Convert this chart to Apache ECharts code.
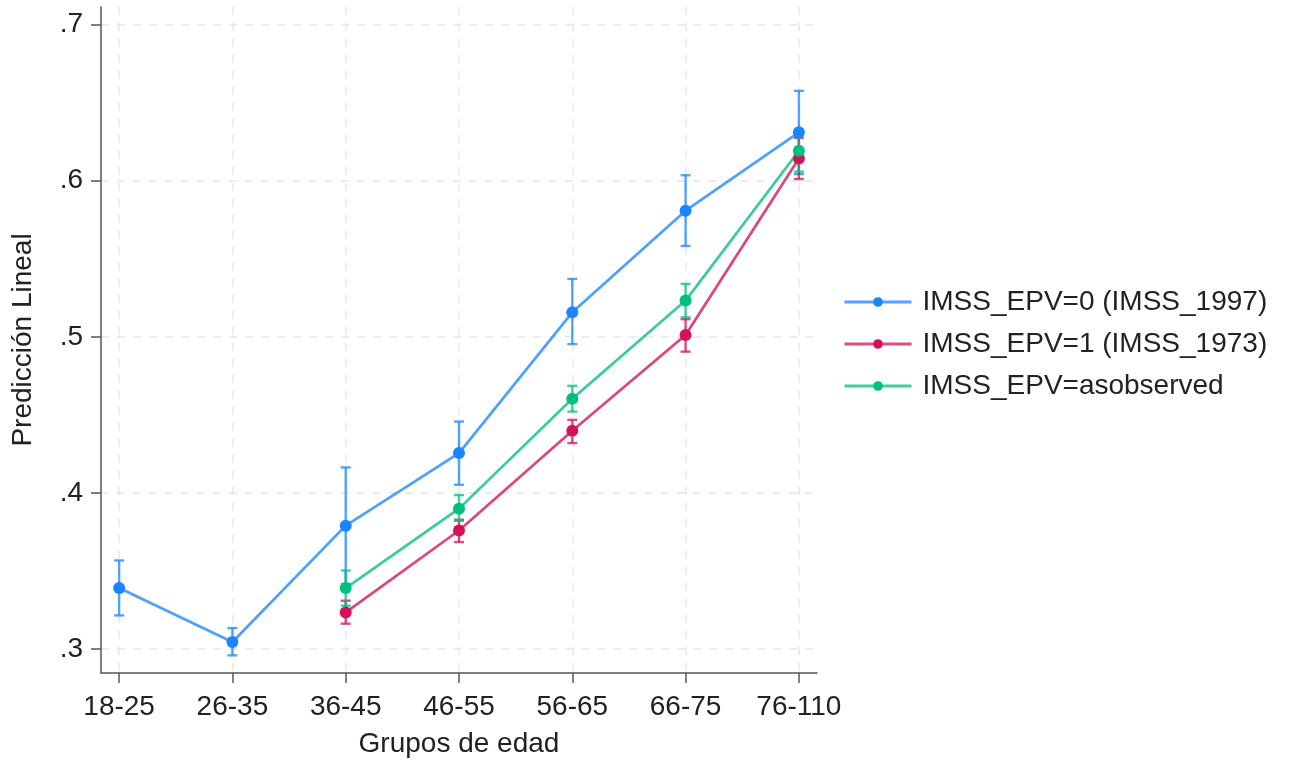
<!DOCTYPE html>
<html>
<head>
<meta charset="utf-8">
<script src="https://cdn.jsdelivr.net/npm/echarts@6/dist/echarts.min.js"></script>
<style>
  html, body { margin: 0; background: #fff; }
  #main { width: 1290px; height: 761px; }
</style>
</head>
<body>
<div id="main"></div>
<script>
const categories = ['18-25', '26-35', '36-45', '46-55', '56-65', '66-75', '76-110']
const seriesNames = ['IMSS_EPV=0 (IMSS_1997)', 'IMSS_EPV=1 (IMSS_1973)', 'IMSS_EPV=asobserved']
const colors = ['#1a85ff', '#d41159', '#00bf7f']

// punto estimado y limites del intervalo
const est0 = [0.339, 0.3045, 0.379, 0.4255, 0.5157, 0.5808, 0.631]
const lo0 = [0.3215, 0.2959, 0.3416, 0.4052, 0.4953, 0.5582, 0.6042]
const hi0 = [0.3567, 0.3134, 0.4163, 0.4457, 0.5371, 0.6035, 0.6576]

const est1 = [null, null, 0.3234, 0.3759, 0.4398, 0.5012, 0.6143]
const lo1 = [null, null, 0.3162, 0.3685, 0.4319, 0.4905, 0.6011]
const hi1 = [null, null, 0.3309, 0.3828, 0.4468, 0.5113, 0.6275]

const est2 = [null, null, 0.339, 0.3899, 0.4603, 0.5232, 0.6192]
const lo2 = [null, null, 0.3277, 0.3821, 0.4521, 0.5125, 0.6058]
const hi2 = [null, null, 0.3503, 0.3986, 0.4686, 0.5339, 0.6326]

const yTicks = [0.3, 0.4, 0.5, 0.6, 0.7]

const fontFamily = 'Liberation Sans, Arial, sans-serif'
const fontSize = 28
const axisColor = '#555'
const gridColor = '#e6e6e6'

function points (arr) {
  let out = []
  arr.forEach((v, i) => { if (v !== null) out.push([i, v]) })
  return out
}
function bars (lo, hi) {
  let out = []
  lo.forEach((v, i) => { if (v !== null) out.push([i, v, hi[i]]) })
  return out
}

function errorSeries (name, lo, hi, color) {
  return {
    name: name,
    type: 'custom',
    data: bars(lo, hi),
    encode: { x: 0, y: [1, 2] },
    z: 3,
    renderItem: function (params, api) {
      let x = api.value(0)
      let a = api.coord([x, api.value(1)])
      let b = api.coord([x, api.value(2)])
      let w = 5
      let style = { stroke: color, lineWidth: 2.4, opacity: 0.75 }
      return {
        type: 'group',
        children: [
          { type: 'line', shape: { x1: a[0], y1: a[1], x2: b[0], y2: b[1] }, style: style },
          { type: 'line', shape: { x1: a[0] - w, y1: a[1], x2: a[0] + w, y2: a[1] }, style: style },
          { type: 'line', shape: { x1: b[0] - w, y1: b[1], x2: b[0] + w, y2: b[1] }, style: style }
        ]
      }
    }
  }
}

function lineSeries (name, est, color) {
  return {
    name: name,
    type: 'line',
    data: points(est),
    symbol: 'circle',
    symbolSize: 12,
    z: 4,
    itemStyle: { color: color },
    lineStyle: { color: color, width: 2.7, opacity: 0.78 }
  }
}

const chart = echarts.init(document.getElementById('main'))
const option = {
  backgroundColor: '#fff',
  animation: false,
  textStyle: { fontFamily: fontFamily },
  grid: { left: 101, right: 473, top: 7, bottom: 88, containLabel: false, outerBoundsMode: 'none' },
  legend: {
    data: seriesNames,
    orient: 'vertical',
    left: 838,
    top: 283,
    itemWidth: 67,
    itemHeight: 12,
    itemGap: 14,
    lineStyle: { width: 3, opacity: 0.75 },
    textStyle: { fontSize: fontSize, color: '#222', fontFamily: fontFamily, padding: [0, 0, 0, 6] }
  },
  xAxis: {
    type: 'value',
    min: -0.16,
    max: 6.16,
    name: 'Grupos de edad',
    nameLocation: 'middle',
    nameGap: 57,
    nameTextStyle: { fontSize: fontSize, color: '#222' },
    axisLine: { onZero: false, lineStyle: { color: axisColor, width: 1.5 } },
    axisTick: { show: true, length: 10, customValues: [0, 1, 2, 3, 4, 5, 6], lineStyle: { color: axisColor, width: 1.5 } },
    axisLabel: {
      customValues: [0, 1, 2, 3, 4, 5, 6],
      fontSize: fontSize,
      color: '#222',
      margin: 20,
      formatter: v => categories[Math.round(v)]
    },
    splitLine: { show: true, lineStyle: { color: gridColor, type: [8, 8], width: 1.5 } }
  },
  yAxis: {
    type: 'value',
    min: 0.2846,
    max: 0.7113,
    name: 'Predicción Lineal',
    nameLocation: 'middle',
    nameGap: 64,
    nameTextStyle: { fontSize: fontSize, color: '#222' },
    axisLine: { show: true, onZero: false, lineStyle: { color: axisColor, width: 1.5 } },
    axisTick: { show: true, length: 10, customValues: yTicks, lineStyle: { color: axisColor, width: 1.5 } },
    axisLabel: {
      customValues: yTicks,
      fontSize: fontSize,
      color: '#222',
      margin: 18,
      formatter: v => v.toFixed(1).replace(/^0/, '')
    },
    splitLine: { show: true, lineStyle: { color: gridColor, type: [8, 8], width: 1.5 } }
  },
  series: [
    errorSeries('ci0', lo0, hi0, colors[0]),
    errorSeries('ci1', lo1, hi1, colors[1]),
    errorSeries('ci2', lo2, hi2, colors[2]),
    lineSeries(seriesNames[0], est0, colors[0]),
    lineSeries(seriesNames[1], est1, colors[1]),
    lineSeries(seriesNames[2], est2, colors[2])
  ]
}
chart.setOption(option)
</script>
</body>
</html>
